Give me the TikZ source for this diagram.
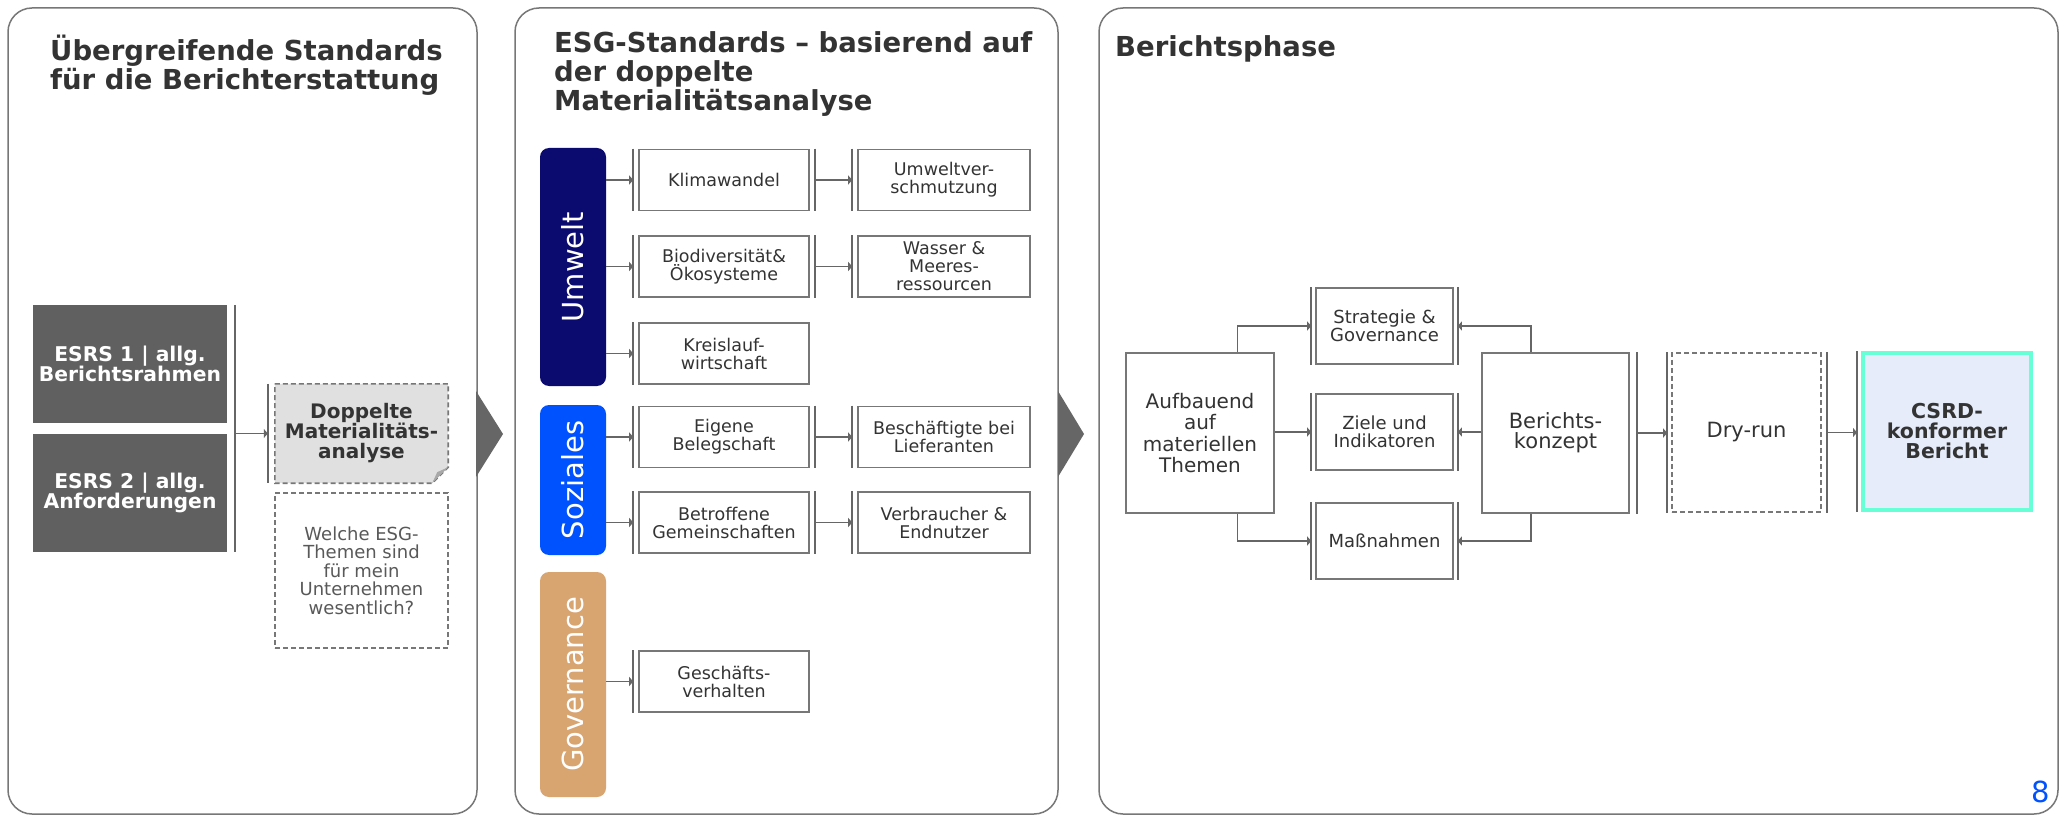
\documentclass[tikz,border=0pt]{standalone}
\usepackage{fontspec}
\setmainfont{DejaVu Sans}
\usetikzlibrary{arrows.meta,calc,backgrounds}
\definecolor{txt}{HTML}{333333}
\definecolor{ln}{HTML}{666666}
\definecolor{bd}{HTML}{777777}
\definecolor{esrsc}{HTML}{606060}
\definecolor{umwc}{HTML}{0B0A6E}
\definecolor{sozc}{HTML}{0052FF}
\definecolor{govc}{HTML}{D8A470}
\definecolor{tealc}{HTML}{66FFD6}
\definecolor{csrdfill}{HTML}{E6ECFA}
\definecolor{dmfill}{HTML}{E0E0E0}
\definecolor{foldc}{HTML}{A8A8A8}
\definecolor{pgnum}{HTML}{0052FF}
\definecolor{grtxt}{HTML}{595959}
\newcommand\fs[2]{\fontsize{#1}{#2}\selectfont}
\newcommand\barL[2][5]{\draw[bar] ([xshift=-#1pt]#2.north west) -- ([xshift=-#1pt]#2.south west); \coordinate (#2L) at ([xshift=-#1pt]#2.west);}
\newcommand\barR[2][5]{\draw[bar] ([xshift=#1pt]#2.north east) -- ([xshift=#1pt]#2.south east); \coordinate (#2R) at ([xshift=#1pt]#2.east);}
\begin{document}
\begin{tikzpicture}[x=1pt,y=-1pt,
  panel/.style={draw=bd, line width=1.5pt, rounded corners=24pt},
  ttl/.style={anchor=north west, align=left, inner sep=0pt, text=txt, font=\fs{27.5}{29}\bfseries},
  box/.style={draw=bd, line width=1.6pt, fill=white, inner sep=0pt, align=center, text=txt, font=\fs{17.5}{18}},
  c1/.style={box, minimum width=170pt, minimum height=61pt},
  c2/.style={box, minimum width=172pt, minimum height=61pt},
  pbox/.style={draw=bd, line width=1.6pt, fill=white, inner sep=0pt, align=center, text=txt},
  mid/.style={pbox, minimum width=137pt, minimum height=76pt, font=\fs{18}{17.5}},
  cat/.style={rounded corners=9pt, inner sep=0pt, text=white, font=\fs{29}{30}, rotate=90, minimum height=66pt},
  esrs/.style={fill=esrsc, inner sep=0pt, text=white, align=center, font=\fs{20.3}{20.5}\bfseries, minimum width=194pt, minimum height=118pt},
  dsh/.style={dash pattern=on 5pt off 3pt},
  bar/.style={draw=ln, line width=1.6pt},
  conn/.style={draw=ln, line width=1.8pt, -{Triangle[length=4pt,width=9pt]}},
]
\begin{scope}[on background layer]
\fill[white] (0,0) rectangle (2067,818);
\end{scope}
\useasboundingbox (0,0) rectangle (2067,818);

% panels
\draw[panel] (8,8) rectangle (477,814);
\draw[panel] (515,8) rectangle (1058,814);
\draw[panel] (1099,8) rectangle (2058,814);
\fill[ln] (476,391) -- (503,434) -- (476,477) -- cycle;
\fill[ln] (1058,391) -- (1084,434) -- (1058,477) -- cycle;

% titles
\node[ttl] (t1) at (50,35) {Übergreifende Standards\\für die Berichterstattung};
\node[ttl] (t2) at (554,31) {ESG-Standards – basierend auf\\der doppelte\\Materialitätsanalyse};
\node[ttl] (t3) at (1115,35) {Berichtsphase};

% ---------- panel 1
\node[esrs] (e1) at (130,364) {ESRS 1 | allg.\\Berichtsrahmen};
\node[esrs] (e2) at (130,493) {ESRS 2 | allg.\\Anforderungen};
\node[inner sep=0pt, minimum width=173pt, minimum height=99pt, align=center, text=txt, font=\fs{20}{20}\bfseries] (dm) at (361.5,433.5) {Doppelte\\Materialitäts-\\analyse};
\begin{scope}[on background layer]
\filldraw[fill=dmfill, draw=bd, line width=1.6pt, dsh] (dm.north west) -- (dm.north east) -- ($(dm.south east)+(0,-16)$) -- ($(dm.south east)+(-16,0)$) -- (dm.south west) -- cycle;
\fill[foldc] ($(dm.south east)+(0,-16)$) -- ($(dm.south east)+(-16,0)$) -- ($(dm.south east)+(-11,-11)$) -- cycle;
\end{scope}
\node[draw=bd, line width=1.6pt, dsh, inner sep=0pt, minimum width=173pt, minimum height=155pt, align=center, text=grtxt, font=\fs{18}{18.5}] (wq) at (361.5,570.5) {Welche ESG-\\Themen sind\\für mein\\Unternehmen\\wesentlich?};
\coordinate (gb1) at ([xshift=8pt]e1.north east);
\coordinate (gb2) at ([xshift=8pt]e2.south east);
\draw[bar] (gb1) -- (gb2);
\barL[7]{dm}
\draw[conn] (gb1 |- dmL) -- (dmL);

% ---------- panel 2
\node[cat, fill=umwc, minimum width=238pt] (umw) at (573,267) {Umwelt};
\node[cat, fill=sozc, minimum width=150pt] (soz) at (573,480) {Soziales};
\node[cat, fill=govc, minimum width=225pt] (gov) at (573,684.5) {Governance};

\node[c1] (k1) at (724,180) {Klimawandel};
\node[c2] (u1) at (944,180) {Umweltver-\\schmutzung};
\node[c1] (k2) at (724,266.5) {Biodiversität\&\\Ökosysteme};
\node[c2] (u2) at (944,266.5) {Wasser \&\\Meeres-\\ressourcen};
\node[c1] (k3) at (724,353.5) {Kreislauf-\\wirtschaft};
\node[c1] (s1) at (724,437) {Eigene\\Belegschaft};
\node[c2] (v1) at (944,437) {Beschäftigte bei\\Lieferanten};
\node[c1] (s2) at (724,522.5) {Betroffene\\Gemeinschaften};
\node[c2] (v2) at (944,522.5) {Verbraucher \&\\Endnutzer};
\node[c1] (g1) at (724,681.5) {Geschäfts-\\verhalten};

\barL{k1}\barR{k1}\barL{u1}
\barL{k2}\barR{k2}\barL{u2}
\barL{k3}
\barL{s1}\barR{s1}\barL{v1}
\barL{s2}\barR{s2}\barL{v2}
\barL{g1}

\draw[conn] (umw.south |- k1L) -- (k1L);
\draw[conn] (umw.south |- k2L) -- (k2L);
\draw[conn] (umw.south |- k3L) -- (k3L);
\draw[conn] (soz.south |- s1L) -- (s1L);
\draw[conn] (soz.south |- s2L) -- (s2L);
\draw[conn] (gov.south |- g1L) -- (g1L);
\draw[conn] (k1R) -- (u1L);
\draw[conn] (k2R) -- (u2L);
\draw[conn] (s1R) -- (v1L);
\draw[conn] (s2R) -- (v2L);

% ---------- panel 3
\node[pbox, minimum width=148pt, minimum height=160pt, font=\fs{20}{21.5}] (au) at (1200,433) {Aufbauend\\auf\\materiellen\\Themen};
\node[mid] (st) at (1384.5,326) {Strategie \&\\Governance};
\node[mid] (zi) at (1384.5,432) {Ziele und\\Indikatoren};
\node[mid] (ma) at (1384.5,541) {Maßnahmen};
\node[pbox, minimum width=147pt, minimum height=160pt, font=\fs{21}{20}] (bk) at (1555.5,433) {Berichts-\\konzept};
\node[pbox, dsh, minimum width=149pt, minimum height=159pt, font=\fs{21}{21}] (dr) at (1746.5,432.5) {Dry-run};
\node[draw=tealc, line width=4pt, fill=csrdfill, inner sep=0pt, minimum width=168pt, minimum height=157pt, align=center, text=txt, font=\fs{20.5}{20}\bfseries] (cs) at (1947,431.5) {CSRD-\\konformer\\Bericht};

\barL[4]{st}\barR[4]{st}
\barL[4]{zi}\barR[4]{zi}
\barL[4]{ma}\barR[4]{ma}
\barR[7]{bk}
\barL[4]{dr}\barR[5]{dr}
\barL[4]{cs}

\coordinate (aT) at ($(au.north west)!0.75!(au.north east)$);
\coordinate (aB) at ($(au.south west)!0.75!(au.south east)$);
\coordinate (bT) at ($(bk.north west)!0.333!(bk.north east)$);
\coordinate (bB) at ($(bk.south west)!0.333!(bk.south east)$);
\draw[conn] (aT) |- (stL);
\draw[conn] (au.east |- ziL) -- (ziL);
\draw[conn] (aB) |- (maL);
\draw[conn] (bT) |- (stR);
\draw[conn] (bk.west |- ziR) -- (ziR);
\draw[conn] (bB) |- (maR);
\draw[conn] (bkR) -- (bkR -| drL);
\draw[conn] (drR) -- (drR -| csL);

\node[text=pgnum, font=\fs{29}{30}, inner sep=0pt] (pn) at (2041,792) {8};
\end{tikzpicture}
\end{document}
